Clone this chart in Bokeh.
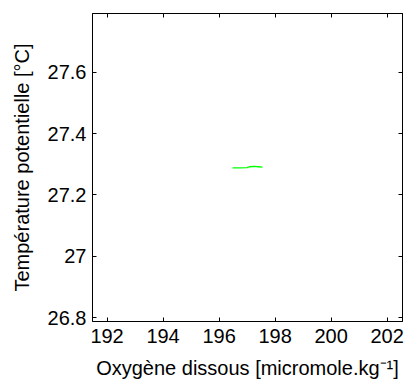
from bokeh.plotting import figure
from bokeh.models import LinearAxis, Range1d, FixedTicker
from bokeh.embed import file_html
from bokeh.resources import INLINE

oxygen = [196.48, 196.75, 197.0, 197.1, 197.25, 197.4, 197.55]
temperature = [27.288, 27.288, 27.289, 27.292, 27.293, 27.292, 27.291]

x_ticks = [192, 194, 196, 198, 200, 202]
x_labels = ["192", "194", "196", "198", "200", "202"]
y_ticks = [26.8, 27.0, 27.2, 27.4, 27.6]
y_labels = ["26.8", "27", "27.2", "27.4", "27.6"]

FONT = "Liberation Sans"

p = figure(width=414, height=388, output_backend="svg", toolbar_location=None,
           x_range=Range1d(191.48, 202.55), y_range=Range1d(26.788, 27.791),
           min_border_left=92, min_border_right=12, min_border_top=13, min_border_bottom=67,
           x_axis_label="Oxygène dissous [micromole.kg⁻¹]",
           y_axis_label="Température potentielle [°C]")

p.line(oxygen, temperature, line_color="#00ff00", line_width=1.3)

p.grid.visible = False
p.outline_line_color = "black"
p.outline_line_width = 1

for ax in (p.xaxis[0], p.yaxis[0]):
    ax.major_tick_in = 4
    ax.major_tick_out = 0
    ax.minor_tick_line_color = None
    ax.axis_line_color = "black"
    ax.major_tick_line_color = "black"
    ax.major_label_text_font = FONT
    ax.major_label_text_font_size = "20px"
    ax.major_label_text_color = "black"
    ax.axis_label_text_font = FONT
    ax.axis_label_text_font_size = "20px"
    ax.axis_label_text_font_style = "normal"
    ax.axis_label_text_color = "black"

p.xaxis[0].ticker = FixedTicker(ticks=x_ticks)
p.xaxis[0].major_label_overrides = {t: l for t, l in zip(x_ticks, x_labels)}
p.yaxis[0].ticker = FixedTicker(ticks=y_ticks)
p.yaxis[0].major_label_overrides = {t: l for t, l in zip(y_ticks, y_labels)}
p.xaxis[0].major_label_standoff = 7
p.yaxis[0].major_label_standoff = 6
p.xaxis[0].axis_label_standoff = 11
p.yaxis[0].axis_label_standoff = 12

top = LinearAxis(ticker=FixedTicker(ticks=x_ticks), major_label_text_font_size="0px",
                 major_tick_in=4, major_tick_out=0, minor_tick_line_color=None,
                 axis_line_color="black")
top.major_label_text_color = None
right = LinearAxis(ticker=FixedTicker(ticks=y_ticks), major_label_text_font_size="0px",
                   major_tick_in=4, major_tick_out=0, minor_tick_line_color=None,
                   axis_line_color="black")
right.major_label_text_color = None
p.add_layout(top, "above")
p.add_layout(right, "right")

open("out.html", "w").write(file_html(p, INLINE))
